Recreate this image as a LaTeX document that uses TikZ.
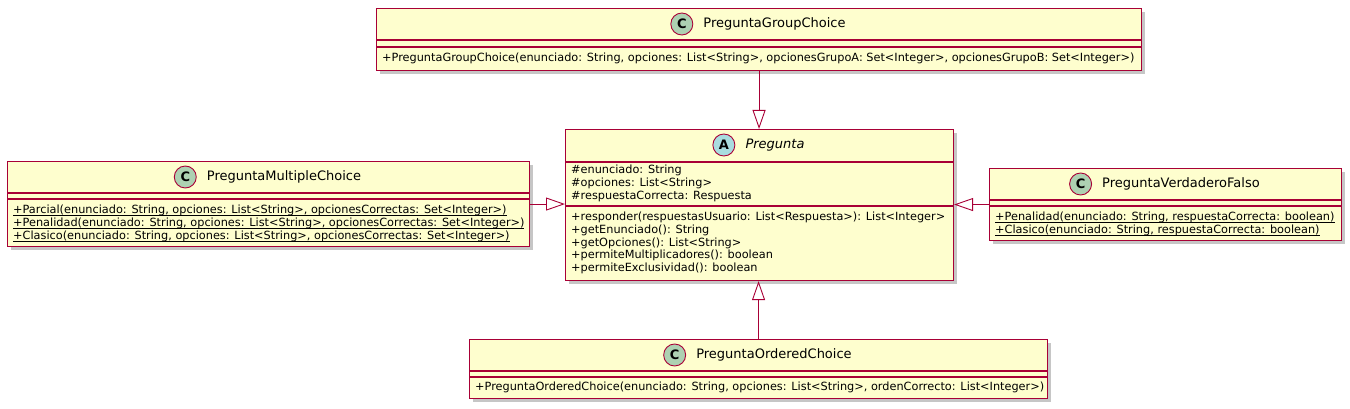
\documentclass[tikz,border=0pt]{standalone}
\usepackage{fontspec}
\setmainfont{DejaVu Sans}
\usetikzlibrary{calc,arrows.meta,shadows,positioning}

\definecolor{umlfill}{HTML}{FEFECE}
\definecolor{umlline}{HTML}{A80036}
\definecolor{spotc}{HTML}{ADD1B2}
\definecolor{spota}{HTML}{A9DCDF}

\tikzset{
  classbox/.style={draw=umlline, fill=umlfill, line width=1.1pt, inner sep=0pt,
    anchor=north west, drop shadow={shadow xshift=3pt, shadow yshift=-3pt, opacity=0.45}},
  sep/.style={draw=umlline, line width=1.1pt},
  title/.style={inner sep=0pt, font=\fontsize{13}{15}\selectfont},
  spot/.style={circle, draw=umlline, line width=0.9pt, minimum size=22pt, inner sep=0pt,
    font=\bfseries\fontsize{13}{15}\selectfont},
  member/.style={anchor=west, inner sep=0pt, text height=8pt, text depth=2.5pt,
    font=\fontsize{11.3}{13}\selectfont},
  extends/.style={draw=umlline, line width=0.9pt, -{Triangle[open, length=19pt, width=13pt]}}
}
\newcommand{\static}[1]{\underline{\smash{#1}}}

\begin{document}
\begin{tikzpicture}[x=1pt, y=-1pt]
  \useasboundingbox (0,0) rectangle (1350,409);

  % PreguntaGroupChoice
  \node [classbox, minimum width=765pt, minimum height=62pt] (group) at (376,8) {};
  \node [title] (grouptitle) at (774.5,24) {PreguntaGroupChoice};
  \node [spot, fill=spotc, left=10pt of grouptitle] (groupspot) {C};
  \draw [sep] (376,40) -- (1141,40);
  \draw [sep] (376,47) -- (1141,47);
  \node [member] (gm1) at (382,59) {+PreguntaGroupChoice(enunciado: String, opciones: List<String>, opcionesGrupoA: Set<Integer>, opcionesGrupoB: Set<Integer>)};

  % Pregunta (abstracta)
  \node [classbox, minimum width=388pt, minimum height=151pt] (preg) at (565,129) {};
  \node [title, font=\itshape\fontsize{13}{15}\selectfont] (pregtitle) at (775,145) {Pregunta};
  \node [spot, fill=spota, left=10pt of pregtitle] (pregspot) {A};
  \draw [sep] (565,162) -- (953,162);
  \draw [sep] (565,206) -- (953,206);
  \foreach \t [count=\i] in {\#enunciado: String, \#opciones: List<String>, \#respuestaCorrecta: Respuesta}
    \node [member] (pa\i) at (571,158+13*\i) {\t};
  \foreach \t [count=\i] in {+responder(respuestasUsuario: List<Respuesta>): List<Integer>,
      +getEnunciado(): String, +getOpciones(): List<String>,
      +permiteMultiplicadores(): boolean, +permiteExclusividad(): boolean}
    \node [member] (pm\i) at (571,205.2+12.75*\i) {\t};

  % PreguntaMultipleChoice
  \node [classbox, minimum width=522pt, minimum height=85pt] (multi) at (7,161) {};
  \node [title] (multititle) at (284,177) {PreguntaMultipleChoice};
  \node [spot, fill=spotc, left=10pt of multititle] (multispot) {C};
  \draw [sep] (7,193) -- (529,193);
  \draw [sep] (7,199) -- (529,199);
  \foreach \t [count=\i] in {Parcial, Penalidad, Clasico}
    \node [member] (mm\i) at (13,198+13*\i) {\static{+\t(enunciado: String, opciones: List<String>, opcionesCorrectas: Set<Integer>)}};

  % PreguntaVerdaderoFalso
  \node [classbox, minimum width=352pt, minimum height=72pt] (vf) at (989,168) {};
  \node [title] (vftitle) at (1181,184) {PreguntaVerdaderoFalso};
  \node [spot, fill=spotc, left=10pt of vftitle] (vfspot) {C};
  \draw [sep] (989,200) -- (1341,200);
  \draw [sep] (989,206) -- (1341,206);
  \foreach \t [count=\i] in {Penalidad, Clasico}
    \node [member] (vm\i) at (995,205+13*\i) {\static{+\t(enunciado: String, respuestaCorrecta: boolean)}};

  % PreguntaOrderedChoice
  \node [classbox, minimum width=578pt, minimum height=59pt] (ordered) at (469,339) {};
  \node [title] (orderedtitle) at (774,355) {PreguntaOrderedChoice};
  \node [spot, fill=spotc, left=10pt of orderedtitle] (orderedspot) {C};
  \draw [sep] (469,371) -- (1047,371);
  \draw [sep] (469,377) -- (1047,377);
  \node [member] (om1) at (475,388) {+PreguntaOrderedChoice(enunciado: String, opciones: List<String>, ordenCorrecto: List<Integer>)};

  % herencias
  \draw [extends] (group.south) -- (group.south |- preg.north);
  \draw [extends] (multi.east) -- (multi.east -| preg.west);
  \draw [extends] (vf.west) -- (vf.west -| preg.east);
  \draw [extends] (ordered.north) -- (ordered.north |- preg.south);
\end{tikzpicture}
\end{document}
